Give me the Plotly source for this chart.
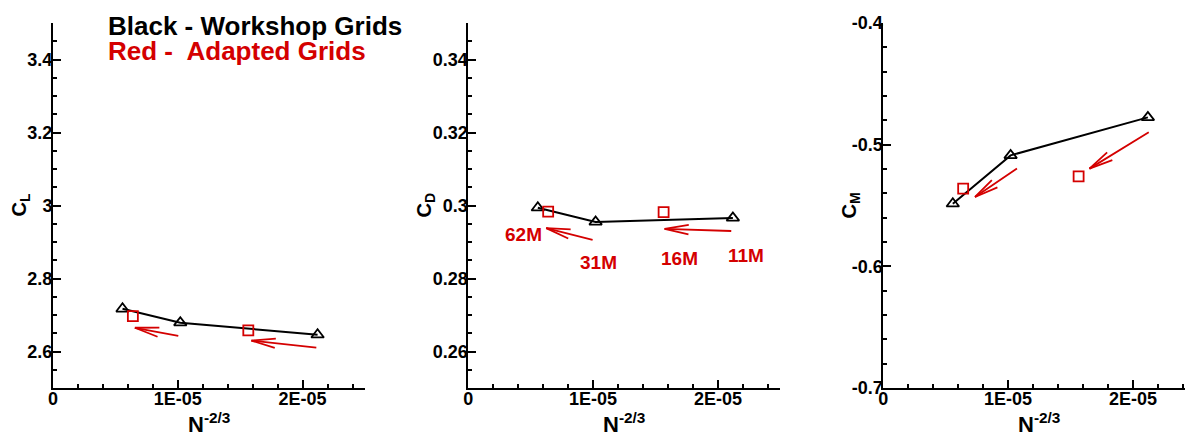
import math
import plotly.graph_objects as go

# ---- data -----------------------------------------------------------------
# x = N^(-2/3) for each grid
ws_x = [0.557e-5, 1.02e-5, 2.12e-5]          # workshop grids (black)
ad_x = [0.64e-5, 1.565e-5]                   # adapted grids (red)

ws_cl = [2.717, 2.679, 2.646]
ad_cl = [2.697, 2.658]

ws_cd = [0.2994, 0.2955, 0.2966]
ad_cd = [0.2983, 0.2982]

ws_cm = [-0.5485, -0.5088, -0.4776]
ad_cm = [-0.5362, -0.5260]

# refinement arrows: (tail_x, tail_y, head_x, head_y)
arrows_cl = [(1.016e-5, 2.642, 0.656e-5, 2.665),
             (2.122e-5, 2.610, 1.590e-5, 2.630)]
arrows_cd = [(1.008e-5, 0.2905, 0.624e-5, 0.2938),
             (2.119e-5, 0.2930, 1.573e-5, 0.2936)]
arrows_cm = [(1.083e-5, -0.5187, 0.735e-5, -0.5430),
             (2.139e-5, -0.4891, 1.652e-5, -0.5197)]

grid_labels = ["62M", "31M", "16M", "11M"]
grid_label_x = [0.439e-5, 1.046e-5, 1.691e-5, 2.224e-5]
grid_label_y = [0.2921, 0.2843, 0.2855, 0.2863]

x_tickvals = [0, 1e-5, 2e-5]
x_ticktext = ["0", "1E-05", "2E-05"]
cl_ticks = [2.6, 2.8, 3.0, 3.2, 3.4]
cl_text = ["2.6", "2.8", "3", "3.2", "3.4"]
cd_ticks = [0.26, 0.28, 0.30, 0.32, 0.34]
cd_text = ["0.26", "0.28", "0.3", "0.32", "0.34"]
cm_ticks = [-0.7, -0.6, -0.5, -0.4]
cm_text = ["-0.7", "-0.6", "-0.5", "-0.4"]

# ---- layout geometry --------------------------------------------------------
W, H = 1185, 432
BLACK = "#000000"
RED = "#d40000"
FONT = "Liberation Sans"

Y_TOP, Y_BOT = 23, 388                      # plot area top/bottom (px)
X_SPAN = 312.0                              # px covered by 2.5e-5 on x
panel_left = [53, 468.3, 883.3]
x3_max = (W - panel_left[2]) / X_SPAN * 2.5e-5
x_ranges = [[0, 2.5e-5], [0, 2.5e-5], [0, x3_max]]
y_ranges = [[2.5, 3.5], [0.25, 0.35], [-0.7, -0.4]]

ARM_LEN = 26        # arrowhead arm length (px)
ARM_ANG = 11        # arrowhead half-angle (deg)

fig = go.Figure()

panels = [
    ("x", "y", ws_cl, ad_cl, arrows_cl),
    ("x2", "y2", ws_cd, ad_cd, arrows_cd),
    ("x3", "y3", ws_cm, ad_cm, arrows_cm),
]

for i, (xa, ya, ws, ad, arrs) in enumerate(panels):
    fig.add_trace(go.Scatter(
        x=ws_x, y=ws, xaxis=xa, yaxis=ya, mode="lines+markers",
        line=dict(color=BLACK, width=2),
        marker=dict(symbol="triangle-up-open", size=11, color=BLACK,
                    line=dict(width=1.8, color=BLACK)),
        showlegend=False, hoverinfo="skip"))
    fig.add_trace(go.Scatter(
        x=ad_x, y=ad, xaxis=xa, yaxis=ya, mode="markers",
        marker=dict(symbol="square-open", size=10, color=RED,
                    line=dict(width=1.8, color=RED)),
        showlegend=False, hoverinfo="skip"))

    # pixels per data unit on this panel
    sx = X_SPAN / 2.5e-5
    sy = (Y_BOT - Y_TOP) / (y_ranges[i][1] - y_ranges[i][0])
    for tx, ty, hx, hy in arrs:
        # shaft
        fig.add_annotation(
            x=hx, y=hy, ax=tx, ay=ty, xref=xa, yref=ya,
            axref=xa, ayref=ya, text="", showarrow=True,
            arrowhead=0, arrowwidth=1.8, arrowcolor=RED,
            standoff=0, startstandoff=0)
        # open "V" head: two short strokes back from the tip
        dx = (tx - hx) * sx
        dy = -(ty - hy) * sy
        base = math.atan2(dy, dx)
        for s in (-1, 1):
            a = base + s * math.radians(ARM_ANG)
            fig.add_annotation(
                x=hx, y=hy, xref=xa, yref=ya,
                ax=ARM_LEN * math.cos(a), ay=ARM_LEN * math.sin(a),
                text="", showarrow=True, arrowhead=0, arrowwidth=1.8,
                arrowcolor=RED, standoff=0, startstandoff=0)

for lbl, lx, ly in zip(grid_labels, grid_label_x, grid_label_y):
    fig.add_annotation(x=lx, y=ly, xref="x2", yref="y2", text=lbl,
                       showarrow=False, xanchor="center", yanchor="middle",
                       font=dict(family=FONT, size=19, color=RED, weight="bold"))

# ---- axes -----------------------------------------------------------------
def px(v):
    return v / W

def py(v):
    return 1 - v / H

y_dom = [py(Y_BOT), py(Y_TOP)]
tick_font = dict(family=FONT, size=18, color=BLACK, weight="bold")

def xaxis(dom, rng, anchor):
    return dict(domain=dom, range=rng, anchor=anchor, automargin=False,
                showline=True, linecolor=BLACK, linewidth=2,
                showgrid=False, zeroline=False,
                ticks="inside", ticklen=8, tickwidth=1.5, tickcolor=BLACK,
                tickmode="array", tickvals=x_tickvals, ticktext=x_ticktext,
                tickfont=tick_font, ticklabelstandoff=-7,
                minor=dict(ticks="inside", ticklen=4, tickwidth=1.5,
                           tickcolor=BLACK, tickmode="linear", tick0=0,
                           dtick=2e-6, showgrid=False))

def yaxis(rng, tv, tt, minor_dt, anchor):
    return dict(domain=y_dom, range=rng, anchor=anchor, automargin=False,
                showline=True, linecolor=BLACK, linewidth=2,
                showgrid=False, zeroline=False,
                ticks="inside", ticklen=8, tickwidth=1.5, tickcolor=BLACK,
                tickmode="array", tickvals=tv, ticktext=tt,
                tickfont=tick_font, ticklabelstandoff=-5,
                minor=dict(ticks="inside", ticklen=4, tickwidth=1.5,
                           tickcolor=BLACK, tickmode="linear", tick0=rng[0],
                           dtick=minor_dt, showgrid=False))

fig.update_layout(
    width=W, height=H,
    margin=dict(l=0, r=0, t=0, b=0, autoexpand=False),
    paper_bgcolor="white", plot_bgcolor="white",
    xaxis=xaxis([px(panel_left[0]), px(panel_left[0] + X_SPAN)], x_ranges[0], "y"),
    xaxis2=xaxis([px(panel_left[1]), px(panel_left[1] + X_SPAN)], x_ranges[1], "y2"),
    xaxis3=xaxis([px(panel_left[2]), 1.0], x_ranges[2], "y3"),
    yaxis=yaxis(y_ranges[0], cl_ticks, cl_text, 0.05, "x"),
    yaxis2=yaxis(y_ranges[1], cd_ticks, cd_text, 0.005, "x2"),
    yaxis3=yaxis(y_ranges[2], cm_ticks, cm_text, 0.02, "x3"),
)

# axis titles
title_font = dict(family=FONT, size=20, color=BLACK, weight="bold")
for name, cx in [("C<sub>L</sub>", 20), ("C<sub>D</sub>", 425), ("C<sub>M</sub>", 850)]:
    fig.add_annotation(x=px(cx), y=py(205.5), xref="paper", yref="paper",
                       text=name, textangle=-90, showarrow=False,
                       xanchor="center", yanchor="middle", font=title_font)

xt_font = dict(family=FONT, size=22, color=BLACK, weight="bold")
for cx in [209, 624.3, 1039]:
    fig.add_annotation(x=px(cx), y=py(423), xref="paper", yref="paper",
                       text="N<sup>-2/3</sup>", showarrow=False,
                       xanchor="center", yanchor="middle", font=xt_font)

# key text
fig.add_annotation(x=px(106), y=py(26), xref="paper", yref="paper",
                   text="Black - Workshop Grids", showarrow=False,
                   xanchor="left", yanchor="middle",
                   font=dict(family=FONT, size=26, color=BLACK, weight="bold"))
fig.add_annotation(x=px(106), y=py(51), xref="paper", yref="paper",
                   text="Red -  Adapted Grids", showarrow=False,
                   xanchor="left", yanchor="middle",
                   font=dict(family=FONT, size=26, color=RED, weight="bold"))

fig.write_html("out.html")
